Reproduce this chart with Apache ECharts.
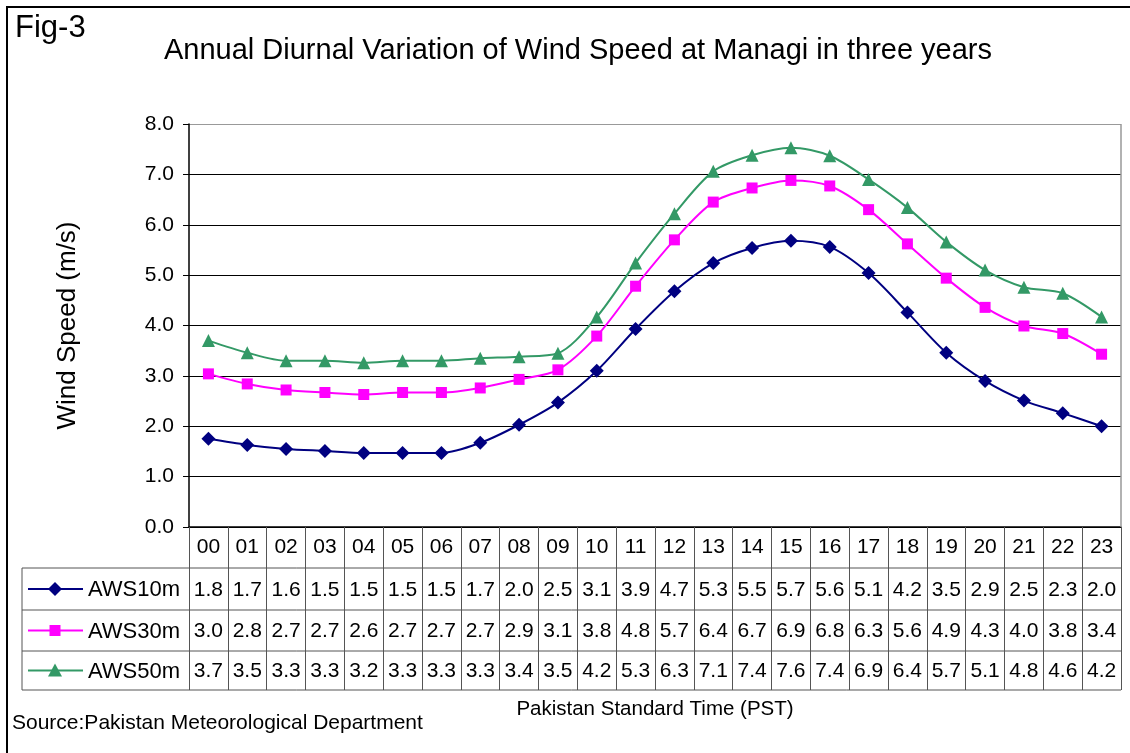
<!DOCTYPE html>
<html>
<head>
<meta charset="utf-8">
<title>Annual Diurnal Variation of Wind Speed at Managi</title>
<script src="https://cdn.jsdelivr.net/npm/echarts@6/dist/echarts.min.js"></script>
<style>
  html, body { margin: 0; padding: 0; background: #fff; }
  #main { width: 1130px; height: 753px; }
</style>
</head>
<body>
<div id="main"></div>
<script>
// hours of the day (PST)
const hours = ['00', '01', '02', '03', '04', '05', '06', '07', '08', '09', '10', '11',
               '12', '13', '14', '15', '16', '17', '18', '19', '20', '21', '22', '23'];

// plotted values
const aws10 = [1.75, 1.63, 1.55, 1.51, 1.47, 1.47, 1.47, 1.67, 2.03, 2.47, 3.10, 3.93,
               4.68, 5.24, 5.54, 5.68, 5.56, 5.04, 4.26, 3.46, 2.90, 2.51, 2.26, 2.00];
const aws30 = [3.04, 2.84, 2.72, 2.67, 2.63, 2.67, 2.67, 2.76, 2.93, 3.12, 3.79, 4.78,
               5.70, 6.45, 6.73, 6.88, 6.77, 6.30, 5.62, 4.94, 4.36, 3.99, 3.84, 3.43];
const aws50 = [3.70, 3.46, 3.30, 3.30, 3.26, 3.30, 3.30, 3.35, 3.38, 3.45, 4.17, 5.24,
               6.22, 7.06, 7.38, 7.53, 7.37, 6.90, 6.34, 5.66, 5.10, 4.76, 4.64, 4.17];

// values printed in the data table
const tab10 = ['1.8', '1.7', '1.6', '1.5', '1.5', '1.5', '1.5', '1.7', '2.0', '2.5', '3.1', '3.9',
               '4.7', '5.3', '5.5', '5.7', '5.6', '5.1', '4.2', '3.5', '2.9', '2.5', '2.3', '2.0'];
const tab30 = ['3.0', '2.8', '2.7', '2.7', '2.6', '2.7', '2.7', '2.7', '2.9', '3.1', '3.8', '4.8',
               '5.7', '6.4', '6.7', '6.9', '6.8', '6.3', '5.6', '4.9', '4.3', '4.0', '3.8', '3.4'];
const tab50 = ['3.7', '3.5', '3.3', '3.3', '3.2', '3.3', '3.3', '3.3', '3.4', '3.5', '4.2', '5.3',
               '6.3', '7.1', '7.4', '7.6', '7.4', '6.9', '6.4', '5.7', '5.1', '4.8', '4.6', '4.2'];

const seriesNames = ['AWS10m', 'AWS30m', 'AWS50m'];
const yTicks = [0, 1, 2, 3, 4, 5, 6, 7, 8];

const FONT = '"Liberation Sans", Arial, sans-serif';

// table geometry
const tableLeft = 22, plotLeft = 189, plotRight = 1121, plotTop = 124, plotBottom = 527;
const rowLines = [568, 610, 651, 690];

var myChart = echarts.init(document.getElementById('main'));

const seriesStyle = [
    { color: '#000080', symbol: 'diamond', size: 14 },
    { color: '#FF00FF', symbol: 'rect', size: 11 },
    { color: '#339966', symbol: 'triangle', size: 13 }
];

const option = {
    animation: false,
    textStyle: { fontFamily: FONT },
    title: {
        text: 'Annual Diurnal Variation of Wind Speed at Managi in three years',
        left: 573,
        top: 31,
        textAlign: 'center',
        textStyle: { fontSize: 29, fontWeight: 'normal', color: '#000', fontFamily: FONT }
    },
    grid: {
        left: plotLeft,
        right: 1130 - plotRight,
        top: plotTop,
        bottom: 753 - plotBottom,
        containLabel: false
    },
    xAxis: {
        type: 'category',
        data: hours,
        boundaryGap: true,
        axisLine: { show: true, lineStyle: { color: '#000', width: 1.5 } },
        axisTick: {
            show: true,
            interval: 0,
            length: rowLines[3] - plotBottom,
            lineStyle: { color: '#555', width: 1 }
        },
        axisLabel: {
            interval: 0,
            margin: 10,
            fontSize: 21,
            color: '#000',
            fontFamily: FONT
        },
        splitLine: { show: false }
    },
    yAxis: {
        type: 'value',
        min: 0,
        max: 8,
        interval: 1,
        name: 'Wind Speed (m/s)',
        nameLocation: 'middle',
        nameRotate: 90,
        nameGap: 108,
        nameTextStyle: { fontSize: 26, color: '#000', fontFamily: FONT },
        axisLine: { show: true, lineStyle: { color: '#000', width: 1.5 } },
        axisTick: { show: true, length: 6, lineStyle: { color: '#000' } },
        axisLabel: {
            fontSize: 21,
            color: '#000',
            margin: 15,
            fontFamily: FONT,
            formatter: function (v) { return v.toFixed(1); }
        },
        splitLine: {
            show: true,
            lineStyle: {
                color: yTicks.map(t => (t === 8 ? '#999' : '#000')),
                width: 1
            }
        }
    },
    series: [aws10, aws30, aws50].map((d, i) => ({
        name: seriesNames[i],
        type: 'line',
        data: d,
        smooth: 0.3,
        symbol: seriesStyle[i].symbol,
        symbolSize: seriesStyle[i].size,
        lineStyle: { color: seriesStyle[i].color, width: 2 },
        itemStyle: { color: seriesStyle[i].color },
        z: 3 + i
    }))
};

myChart.setOption(option);

// build the data table below the plot from the same arrays
const rowCenters = [
    (rowLines[0] + rowLines[1]) / 2,
    (rowLines[1] + rowLines[2]) / 2,
    (rowLines[2] + rowLines[3]) / 2
];
const tables = [tab10, tab30, tab50];
const graphics = [];

// outer chart frame
graphics.push({
    type: 'rect',
    shape: { x: 7, y: 7, width: 1140, height: 770 },
    style: { fill: null, stroke: '#000', lineWidth: 2 },
    silent: true
});

// plot border at the right
graphics.push({
    type: 'line',
    shape: { x1: plotRight, y1: plotTop, x2: plotRight, y2: plotBottom },
    style: { stroke: '#999', lineWidth: 1.5 },
    z: 10
});

// horizontal table lines
rowLines.forEach(y => {
    graphics.push({
        type: 'line',
        shape: { x1: tableLeft, y1: y, x2: plotRight, y2: y },
        style: { stroke: '#555', lineWidth: 1 },
        z: 10
    });
});
graphics.push({
    type: 'line',
    shape: { x1: tableLeft, y1: rowLines[0], x2: tableLeft, y2: rowLines[3] },
    style: { stroke: '#555', lineWidth: 1 },
    z: 10
});

// legend keys + names
rowCenters.forEach((cy, i) => {
    const col = seriesStyle[i].color;
    graphics.push({
        type: 'line',
        shape: { x1: 28, y1: cy, x2: 83, y2: cy },
        style: { stroke: col, lineWidth: 2 },
        z: 10
    });
    let key;
    if (i === 0) {
        key = { type: 'polygon', shape: { points: [[55, cy - 7], [62, cy], [55, cy + 7], [48, cy]] } };
    } else if (i === 1) {
        key = { type: 'rect', shape: { x: 49.5, y: cy - 5.5, width: 11, height: 11 } };
    } else {
        key = { type: 'polygon', shape: { points: [[55, cy - 7], [62, cy + 6], [48, cy + 6]] } };
    }
    key.style = { fill: col };
    key.z = 11;
    graphics.push(key);
    graphics.push({
        type: 'text',
        x: 88,
        y: cy + 1,
        style: {
            text: seriesNames[i],
            font: '22px ' + FONT,
            fill: '#000',
            verticalAlign: 'middle',
            align: 'left'
        },
        z: 10
    });
});

// table values at each category centre
hours.forEach((h, j) => {
    const px = myChart.convertToPixel({ xAxisIndex: 0 }, h);
    tables.forEach((arr, i) => {
        graphics.push({
            type: 'text',
            x: px,
            y: rowCenters[i] + 1,
            style: {
                text: arr[j],
                font: '21px ' + FONT,
                fill: '#000',
                align: 'center',
                verticalAlign: 'middle'
            },
            z: 10
        });
    });
});

// extra texts
graphics.push({
    type: 'text',
    x: 15,
    y: 13,
    style: { text: 'Fig-3', font: '31px ' + FONT, fill: '#000' }
});
graphics.push({
    type: 'text',
    x: 655,
    y: 709,
    style: {
        text: 'Pakistan Standard Time (PST)',
        font: '20.5px ' + FONT,
        fill: '#000',
        align: 'center',
        verticalAlign: 'middle'
    }
});
graphics.push({
    type: 'text',
    x: 12,
    y: 723,
    style: {
        text: 'Source:Pakistan Meteorological Department',
        font: '21px ' + FONT,
        fill: '#000',
        align: 'left',
        verticalAlign: 'middle'
    }
});

myChart.setOption({ graphic: graphics });
</script>
</body>
</html>
